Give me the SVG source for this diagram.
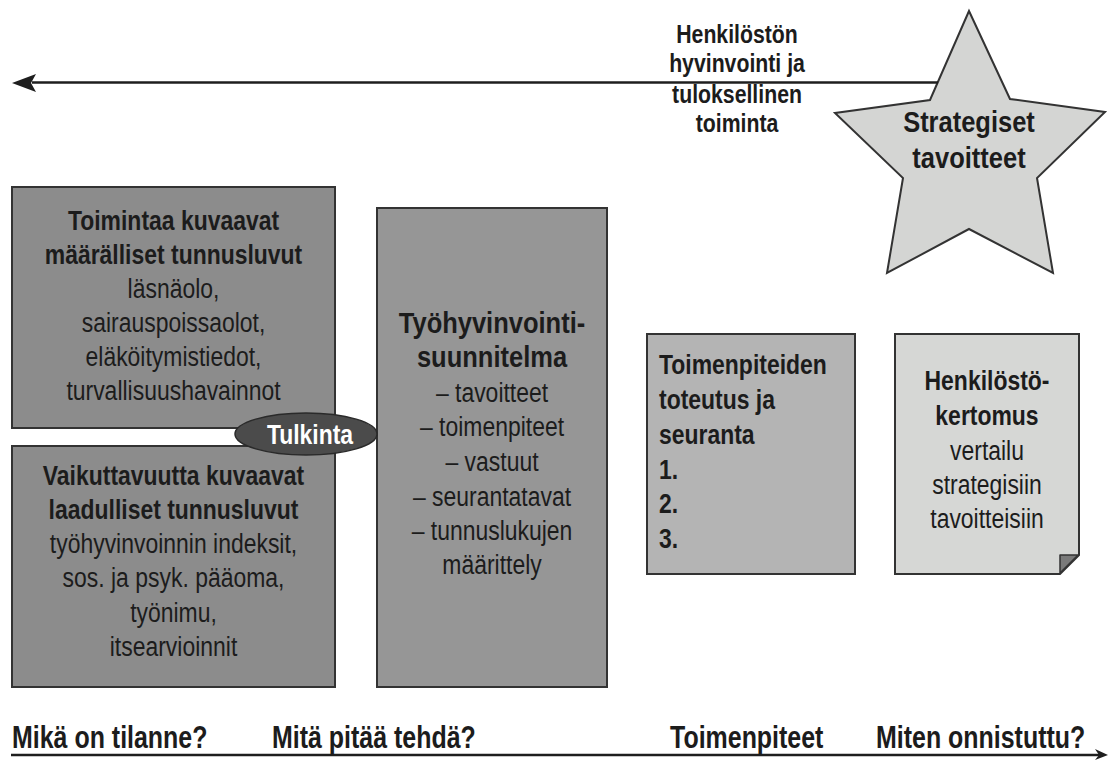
<svg xmlns="http://www.w3.org/2000/svg" width="1109" height="760" viewBox="0 0 1109 760">
<style>
  .t{font-family:"Liberation Sans",Arial,Helvetica,sans-serif;fill:#1c1c1c}
  .b{font-weight:bold}
  .m{text-anchor:middle}
  .box{stroke:#333;stroke-width:2}
  .line{stroke:#1e1e1e;stroke-width:2.6;fill:none}
</style>
<rect width="1109" height="760" fill="#fff"/>

<g id="star-strategiset">
  <polygon points="969,11 1010,99 1105,112 1037,178 1053,273 969,229 887,273 903,178 835,113 930,100" fill="#d4d5d3" stroke="#333" stroke-width="2" stroke-linejoin="miter"/>
  <g transform="matrix(0.85 0 0 1 969 0)">
    <text class="t b m" font-size="30"><tspan x="0" y="132">Strategiset</tspan><tspan x="0" y="168">tavoitteet</tspan></text>
  </g>
</g>

<g id="connectors">
  <line class="line" x1="32" y1="82.5" x2="938" y2="82.5"/>
  <polygon points="12,83 36,74 31,83 36,92" fill="#1e1e1e"/>
  <line class="line" x1="11" y1="755" x2="1100" y2="755"/>
  <polygon points="1108,755 1095,749 1099,755 1095,760" fill="#1e1e1e"/>
</g>

<g id="label-henkiloston">
  <g transform="matrix(0.85 0 0 1 737 0)">
    <text class="t b m" font-size="25"><tspan x="0" y="43">Henkilöstön</tspan><tspan x="0" y="72">hyvinvointi ja</tspan><tspan x="0" y="103">tuloksellinen</tspan><tspan x="0" y="132">toiminta</tspan></text>
  </g>
</g>

<g id="box-toiminta">
  <rect class="box" x="12" y="187" width="323" height="241" fill="#8c8c8c"/>
  <g transform="matrix(0.85 0 0 1 173.5 0)">
    <text class="t b m" font-size="27"><tspan x="0" y="230">Toimintaa kuvaavat</tspan><tspan x="0" y="264">määrälliset tunnusluvut</tspan></text>
    <text class="t m" font-size="27"><tspan x="0" y="298">läsnäolo,</tspan><tspan x="0" y="332">sairauspoissaolot,</tspan><tspan x="0" y="366">eläköitymistiedot,</tspan><tspan x="0" y="400">turvallisuushavainnot</tspan></text>
  </g>
</g>

<g id="box-vaikuttavuus">
  <rect class="box" x="12" y="446" width="323" height="241" fill="#8c8c8c"/>
  <g transform="matrix(0.85 0 0 1 173.5 0)">
    <text class="t b m" font-size="27"><tspan x="0" y="485">Vaikuttavuutta kuvaavat</tspan><tspan x="0" y="519">laadulliset tunnusluvut</tspan></text>
    <text class="t m" font-size="27"><tspan x="0" y="553">työhyvinvoinnin indeksit,</tspan><tspan x="0" y="587">sos. ja psyk. pääoma,</tspan><tspan x="0" y="622">työnimu,</tspan><tspan x="0" y="656">itsearvioinnit</tspan></text>
  </g>
</g>

<g id="box-suunnitelma">
  <rect class="box" x="377" y="208" width="230" height="479" fill="#969696"/>
  <g transform="matrix(0.85 0 0 1 492 0)">
    <text class="t b m" font-size="30"><tspan x="0" y="333">Työhyvinvointi-</tspan><tspan x="0" y="367">suunnitelma</tspan></text>
    <text class="t m" font-size="27"><tspan x="0" y="402">– tavoitteet</tspan><tspan x="0" y="436">– toimenpiteet</tspan><tspan x="0" y="471">– vastuut</tspan><tspan x="0" y="506">– seurantatavat</tspan><tspan x="0" y="540">– tunnuslukujen</tspan><tspan x="0" y="574">määrittely</tspan></text>
  </g>
</g>

<g id="tulkinta">
  <ellipse cx="306" cy="434" rx="71" ry="21" fill="#4b4b4b" stroke="#2a2a2a" stroke-width="1.5"/>
  <g transform="matrix(0.85 0 0 1 310 0)">
    <text class="t b m" font-size="27" style="fill:#fff"><tspan x="0" y="444">Tulkinta</tspan></text>
  </g>
</g>

<g id="box-toteutus">
  <rect class="box" x="647" y="334" width="208" height="240" fill="#b4b4b4"/>
  <g transform="matrix(0.85 0 0 1 659 0)">
    <text class="t b" font-size="27"><tspan x="0" y="374">Toimenpiteiden</tspan><tspan x="0" y="409">toteutus ja</tspan><tspan x="0" y="444">seuranta</tspan><tspan x="0" y="479">1.</tspan><tspan x="0" y="513">2.</tspan><tspan x="0" y="548">3.</tspan></text>
  </g>
</g>

<g id="box-henkilostokertomus">
  <path class="box" d="M895,334 H1079 V555 L1060,574 H895 Z" fill="#d6d7d5"/>
  <path d="M1060,555 H1078 L1060,573 Z" fill="#7a7a7a" stroke="#333" stroke-width="1.5" stroke-linejoin="round"/>
  <g transform="matrix(0.85 0 0 1 987 0)">
    <text class="t b m" font-size="27"><tspan x="0" y="390">Henkilöstö-</tspan><tspan x="0" y="425">kertomus</tspan></text>
    <text class="t m" font-size="27"><tspan x="0" y="460">vertailu</tspan><tspan x="0" y="494">strategisiin</tspan><tspan x="0" y="528">tavoitteisiin</tspan></text>
  </g>
</g>

<g id="axis-labels">
  <g transform="matrix(0.78 0 0 1 12 0)"><text class="t b" font-size="32" x="0" y="748">Mikä on tilanne?</text></g>
  <g transform="matrix(0.78 0 0 1 272 0)"><text class="t b" font-size="32" x="0" y="748">Mitä pitää tehdä?</text></g>
  <g transform="matrix(0.78 0 0 1 670 0)"><text class="t b" font-size="32" x="0" y="748">Toimenpiteet</text></g>
  <g transform="matrix(0.78 0 0 1 876 0)"><text class="t b" font-size="32" x="0" y="748">Miten onnistuttu?</text></g>
</g>
</svg>
